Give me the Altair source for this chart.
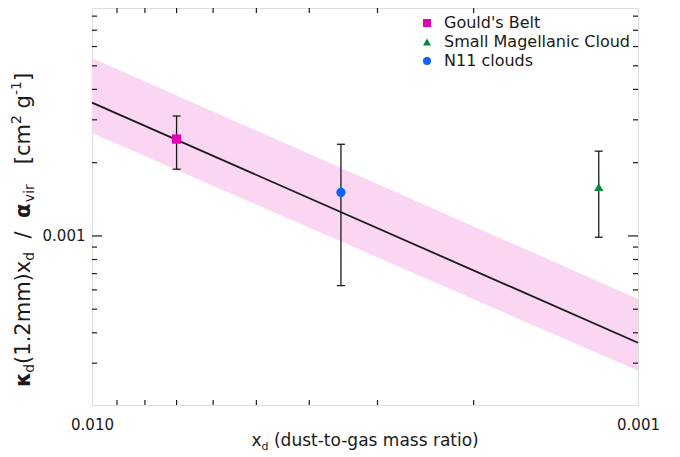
import altair as alt
import pandas as pd

# ---------------- data ----------------
band_x = [0.01, 0.001]
band_lo = [0.00265, 0.000279]
band_hi = [0.00538, 0.000551]

line_x = [0.01, 0.001]
line_y = [0.00353, 0.000364]

names = ["Gould's Belt", "Small Magellanic Cloud", "N11 clouds"]
pt_x = [0.0070, 0.00118, 0.0035]
pt_y = [0.00250, 0.00159, 0.00151]
err_lo = [0.00188, 0.000988, 0.000625]
err_hi = [0.00311, 0.00223, 0.00238]
colors = ["#e000b4", "#008c3c", "#0a64ff"]
shapes = ["square", "triangle-up", "circle"]

x_label_vals = [0.01, 0.001]
y_label_vals = [0.001]
x_minor = [0.009, 0.008, 0.007, 0.006, 0.005, 0.004, 0.003, 0.002]
y_minor = [0.0003, 0.0004, 0.0005, 0.0006, 0.0007, 0.0008, 0.0009,
           0.002, 0.003, 0.004, 0.005, 0.006, 0.007, 0.008]
y_major = [0.001]
x_domain = [0.001, 0.01]
y_domain = [0.000202, 0.00864]

# ---------------- styling ----------------
W, H = 546, 397
FONT = "DejaVu Sans"
INK = "#1a1a1a"
BAND = "#fad6f2"

xs = alt.Scale(type="log", domain=x_domain, reverse=True, nice=False, zero=False)
ys = alt.Scale(type="log", domain=y_domain, nice=False, zero=False)

x_axis = alt.Axis(values=x_label_vals, format=".3f", ticks=False, tickSize=0,
                  domain=False, grid=False, labelFontSize=15, labelFont=FONT,
                  labelColor=INK, labelPadding=12, labelFlush=False, title=None)
y_axis = alt.Axis(values=y_label_vals, format=".3f", ticks=False, tickSize=0,
                  domain=False, grid=False, labelFontSize=15, labelFont=FONT,
                  labelColor=INK, labelPadding=7, title=None)


def X(field):
    return alt.X(field, type="quantitative", scale=xs, axis=x_axis)


def Y(field):
    return alt.Y(field, type="quantitative", scale=ys, axis=y_axis)


band_df = pd.DataFrame({"x": band_x, "lo": band_lo, "hi": band_hi})
line_df = pd.DataFrame({"x": line_x, "y": line_y})
pts_df = pd.DataFrame({"name": names, "x": pt_x, "y": pt_y,
                       "lo": err_lo, "hi": err_hi})

band = alt.Chart(band_df).mark_area(color=BAND, opacity=1).encode(
    x=X("x"), y=Y("lo"), y2="hi")
line = alt.Chart(line_df).mark_line(color=INK, strokeWidth=1.8).encode(
    x=X("x"), y=Y("y"))
err = alt.Chart(pts_df).mark_rule(color=INK, strokeWidth=1.3).encode(
    x=X("x"), y=Y("lo"), y2="hi")
cap_lo = alt.Chart(pts_df).mark_tick(orient="horizontal", size=8, thickness=1.3,
                                     color=INK, opacity=1).encode(x=X("x"), y=Y("lo"))
cap_hi = alt.Chart(pts_df).mark_tick(orient="horizontal", size=8, thickness=1.3,
                                     color=INK, opacity=1).encode(x=X("x"), y=Y("hi"))

legend = alt.Legend(title=None, orient="none", legendX=327, legendY=7,
                    labelFontSize=16, labelFont=FONT, labelColor=INK, labelLimit=400,
                    symbolSize=64, labelOffset=9, rowPadding=3, padding=0,
                    symbolStrokeWidth=0)
points = alt.Chart(pts_df).mark_point(filled=True, opacity=1, size=85).encode(
    x=X("x"), y=Y("y"),
    color=alt.Color("name:N", scale=alt.Scale(domain=names, range=colors), legend=legend),
    shape=alt.Shape("name:N", scale=alt.Scale(domain=names, range=shapes), legend=legend),
)

# inward tick marks on all four sides
xmin_df = pd.DataFrame({"v": x_minor})
ymin_df = pd.DataFrame({"v": y_minor})
ymaj_df = pd.DataFrame({"v": y_major})
tk = dict(color=INK, strokeWidth=1.2)
ticks = [
    alt.Chart(xmin_df).mark_rule(**tk).encode(x=X("v"), y=alt.value(H), y2=alt.value(H - 5)),
    alt.Chart(xmin_df).mark_rule(**tk).encode(x=X("v"), y=alt.value(0), y2=alt.value(5)),
    alt.Chart(ymin_df).mark_rule(**tk).encode(y=Y("v"), x=alt.value(0), x2=alt.value(5)),
    alt.Chart(ymin_df).mark_rule(**tk).encode(y=Y("v"), x=alt.value(W), x2=alt.value(W - 5)),
    alt.Chart(ymaj_df).mark_rule(**tk).encode(y=Y("v"), x=alt.value(0), x2=alt.value(10)),
    alt.Chart(ymaj_df).mark_rule(**tk).encode(y=Y("v"), x=alt.value(W), x2=alt.value(W - 10)),
]

# ---------------- axis titles with sub/superscripts ----------------
EM = {' ': .318, '(': .390, ')': .390, '.': .318, '/': .337, '[': .390,
      ']': .390, '-': .361, 'm': .974, 'x': .592, 'd': .635, 'c': .550, 'g': .635,
      'v': .592, 'i': .278, 'r': .411, 'u': .634, 's': .521, 't': .392, 'o': .612,
      'a': .613, 'κ': .68, 'α': .76}


def tw(s, size):
    return sum(EM.get(ch, .636) for ch in s) * size


def lead(s, size):
    return tw(s[:len(s) - len(s.lstrip(" "))], size)


one = alt.Data(values=[{"k": 1}])
title_layers = []

# x title
xt = [("x", 17, "normal", 0), ("d", 11, "normal", 4),
      (" (dust-to-gas mass ratio)", 17, "normal", 0)]
total = sum(tw(t, s) for t, s, _, _ in xt)
cx = W / 2 - total / 2
for t, s, wt, sh in xt:
    title_layers.append(
        alt.Chart(one).mark_text(text=t.strip(" "), fontSize=s, fontWeight=wt, font=FONT,
                                 color=INK, align="left", baseline="alphabetic").encode(
            x=alt.value(cx + lead(t, s)), y=alt.value(H + 41 + sh)))
    cx += tw(t, s)

# y title (rotated, reads bottom to top)
YS, SS = 21, 14
yt = [("κ", YS, "bold", 0), ("d", SS, "normal", 4), ("(1.2mm)x", YS, "normal", 0),
      ("d", SS, "normal", 4), ("  /  ", YS, "normal", 0), ("α", YS, "bold", 0),
      ("vir", SS, "normal", 4), ("   [cm", YS, "normal", 0), ("2", SS, "normal", -9),
      (" g", YS, "normal", 0), ("-1", SS, "normal", -9), ("]", YS, "normal", 0)]
total = sum(tw(t, s) for t, s, _, _ in yt)
cy = 222 + total / 2
for t, s, wt, sh in yt:
    title_layers.append(
        alt.Chart(one).mark_text(text=t.strip(" "), fontSize=s, fontWeight=wt, font=FONT,
                                 color=INK, align="left", baseline="alphabetic",
                                 angle=270).encode(
            x=alt.value(-62 + sh), y=alt.value(cy - lead(t, s))))
    cy -= tw(t, s)

chart = alt.layer(band, line, err, cap_lo, cap_hi, points, *ticks, *title_layers).properties(
    width=W, height=H,
    autosize=alt.AutoSizeParams(type="none"),
    padding={"left": 84, "top": 0, "right": 34, "bottom": 50},
).configure_view(stroke=INK, strokeWidth=1.6).configure(background="white")

chart.save("out.html", embed_options={"renderer": "svg", "actions": False})
